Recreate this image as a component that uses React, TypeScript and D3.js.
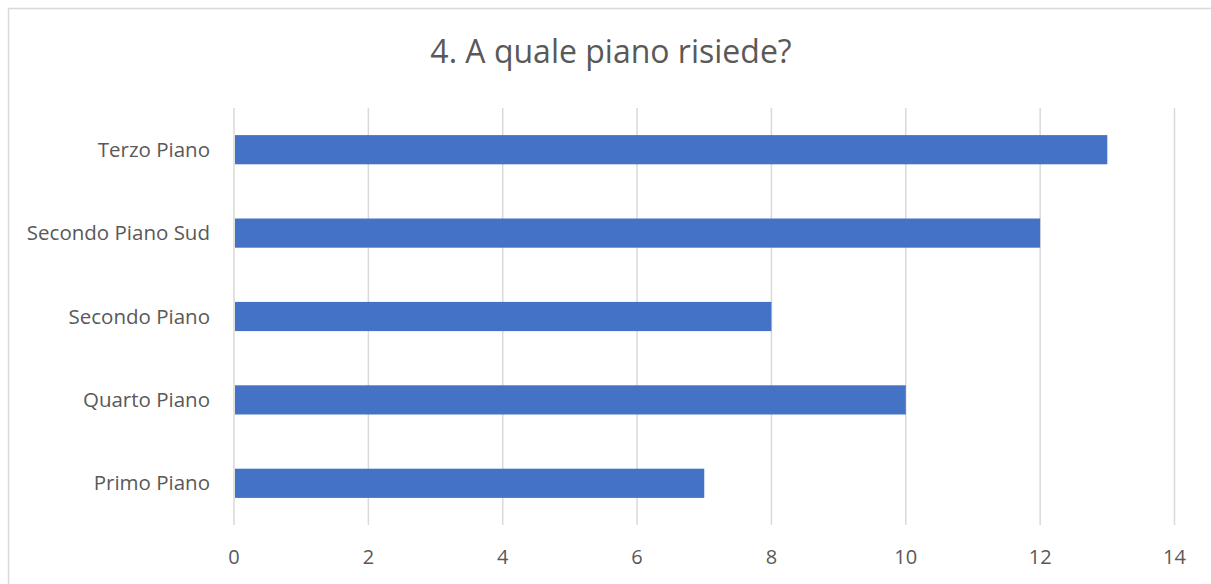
import React from "react";
import * as d3 from "d3";

const categories = ["Terzo Piano", "Secondo Piano Sud", "Secondo Piano", "Quarto Piano", "Primo Piano"];
const values = [13, 12, 8, 10, 7];
const xTicks = [0, 2, 4, 6, 8, 10, 12, 14];
const title = "4. A quale piano risiede?";

const W = 1211;
const H = 584;
const left = 234;
const right = 1174.5;
const top = 108;
const bottom = 525;
const FONT = "'Open Sans', 'Noto Sans', sans-serif";
const TEXT = "#595959";
const GRID = "#d9d9d9";
const BAR = "#4472C4";

export default function App() {
  const x = d3.scaleLinear().domain([0, 14]).range([left, right]);
  const y = d3
    .scaleBand<string>()
    .domain(categories)
    .range([top, bottom])
    .paddingInner(0.65)
    .paddingOuter(0.325);

  return (
    <svg
      width={W}
      height={H}
      style={{ position: "absolute", left: 0, top: 0, background: "#fff" }}
    >
      <rect x={8.5} y={8.5} width={W + 20} height={H + 20} fill="#fff" stroke={GRID} strokeWidth={1.5} />
      <text x={611} y={63} textAnchor="middle" fontFamily={FONT} fontSize={32} fill={TEXT}>
        {title}
      </text>
      {xTicks.map((t) => (
        <g key={t}>
          <line x1={x(t)} x2={x(t)} y1={top} y2={bottom} stroke={GRID} strokeWidth={1.5} />
          <text x={x(t)} y={564} textAnchor="middle" fontFamily={FONT} fontSize={20} fill={TEXT}>
            {t}
          </text>
        </g>
      ))}
      {categories.map((c, i) => (
        <g key={c}>
          <rect x={x(0) + 1} y={y(c)} width={x(values[i]) - x(0) - 1} height={y.bandwidth()} fill={BAR} />
          <text
            x={210}
            y={(y(c) as number) + y.bandwidth() / 2}
            dy="0.35em"
            textAnchor="end"
            fontFamily={FONT}
            fontSize={20.5}
            fill={TEXT}
          >
            {c}
          </text>
        </g>
      ))}
    </svg>
  );
}
